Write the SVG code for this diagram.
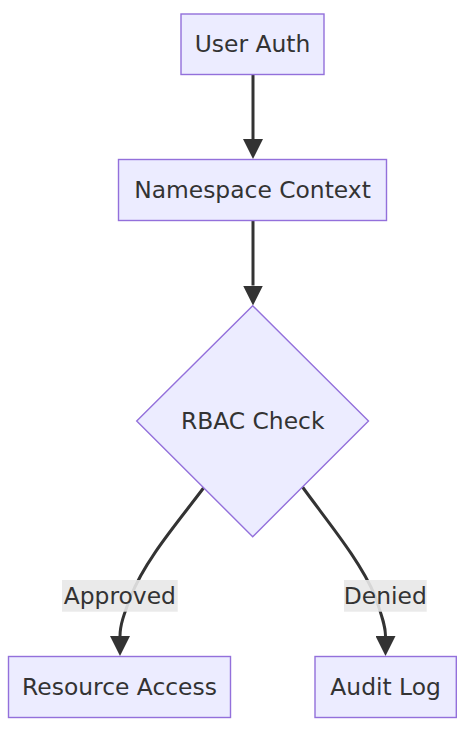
<svg xmlns="http://www.w3.org/2000/svg" width="468" height="732" viewBox="0 0 468 732">
  <style>
    .node rect, .node polygon { fill: #ECECFF; stroke: #9370DB; stroke-width: 1.4; }
    .lbl { font-family: "DejaVu Sans", "Liberation Sans", sans-serif; font-size: 23.4px; fill: #333333; text-anchor: middle; }
    .edge { fill: none; stroke: #333333; stroke-width: 3; }
    .elbg { fill: #e8e8e8; fill-opacity: 0.9; }
  </style>
  <defs>
    <marker id="arrow" viewBox="0 0 10 10" refX="0" refY="5" markerUnits="userSpaceOnUse" markerWidth="20" markerHeight="20" orient="auto">
      <path d="M0,0 L10,5 L0,10 z" fill="#333333"/>
    </marker>
  </defs>
  <rect width="468" height="732" fill="#ffffff"/>

  <g id="edges">
    <path class="edge" d="M253,75 L253,139" marker-end="url(#arrow)"/>
    <path class="edge" d="M253,221 L253,285.5" marker-end="url(#arrow)"/>
    <path class="edge" d="M203.5,488 C178,522 145,560 131,596 C124,614 120,625 120,636" marker-end="url(#arrow)"/>
    <path class="edge" d="M302.5,487 C327,521 360,560 375,596 C381,614 385.5,625 385.5,636" marker-end="url(#arrow)"/>
    <g id="label-approved">
      <rect class="elbg" x="62" y="580" width="115.7" height="31.7"/>
      <text class="lbl" x="119.8" y="603.5">Approved</text>
    </g>
    <g id="label-denied">
      <rect class="elbg" x="344" y="580" width="82.7" height="31.7"/>
      <text class="lbl" x="385.3" y="603.5">Denied</text>
    </g>
  </g>

  <g id="user-auth" class="node">
    <rect x="181" y="14" width="143" height="60.5"/>
    <text class="lbl" x="252.5" y="52">User Auth</text>
  </g>
  <g id="namespace-context" class="node">
    <rect x="118.5" y="159.5" width="268" height="61"/>
    <text class="lbl" x="252.5" y="197.5">Namespace Context</text>
  </g>
  <g id="rbac-check" class="node">
    <polygon points="252.7,305.7 368.5,421 252.7,536.7 136.7,421"/>
    <text class="lbl" x="252.7" y="429">RBAC Check</text>
  </g>
  <g id="resource-access" class="node">
    <rect x="8.5" y="656.5" width="222" height="61"/>
    <text class="lbl" x="119.5" y="694.5">Resource Access</text>
  </g>
  <g id="audit-log" class="node">
    <rect x="315" y="656.5" width="141.3" height="61"/>
    <text class="lbl" x="385.6" y="694.5">Audit Log</text>
  </g>
</svg>
